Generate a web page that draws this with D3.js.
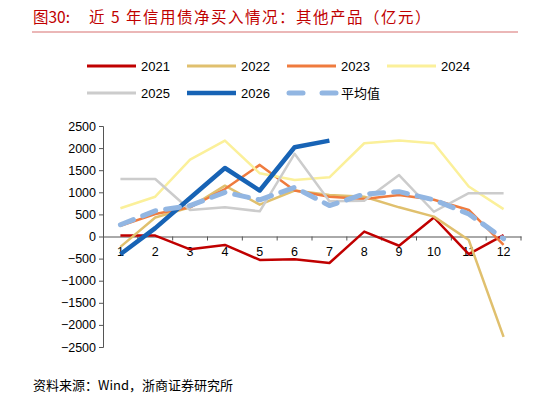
<!DOCTYPE html><html><head><meta charset="utf-8"><script src="https://cdn.jsdelivr.net/npm/d3@7"></script>
<style>body{margin:0;background:#fff}</style></head><body><svg id="c" width="548" height="403"></svg>
<script>
const months=["1","2","3","4","5","6","7","8","9","10","11","12"];
const yTicks=[2500,2000,1500,1000,500,0,-500,-1000,-1500,-2000,-2500];
const s2021=[20,20,-290,-190,-530,-515,-600,110,-210,430,-400,30];
const s2022=[-235,430,660,1150,720,1040,940,900,660,450,-80,-2270];
const s2023=[240,510,660,1075,1620,1040,900,850,940,830,600,-190];
const s2024=[640,900,1740,2170,1430,1280,1340,2110,2170,2110,1130,620];
const s2025=[1300,1300,600,660,570,1870,800,810,1390,560,980,980];
const s2026=[-400,190,870,1550,1040,2020,2170];
const sAvg=[265,580,700,1000,830,1110,700,960,1015,830,510,-50];
const series=[
 {name:"2021",d:s2021,c:"#c00000",w:2.5},
 {name:"2022",d:s2022,c:"#e0c06e",w:2.5},
 {name:"2023",d:s2023,c:"#ef7b3e",w:2.5},
 {name:"2024",d:s2024,c:"#fbf09a",w:2.5},
 {name:"2025",d:s2025,c:"#cccccc",w:2.5},
 {name:"2026",d:s2026,c:"#1763b5",w:4.5},
 {name:"平均值",d:sAvg,c:"#92b6e2",w:5,dash:"14,10"}];
const svg=d3.select("#c");
const font="'Liberation Sans',Arial,sans-serif";
svg.append("text").attr("x",33).attr("y",23).attr("fill","#c00000").attr("font-size",15.5)
 .attr("font-family","'Noto Sans CJK SC'").text("图30:");
svg.append("text").attr("x",89).attr("y",23).attr("fill","#c00000").attr("font-size",15.5).attr("letter-spacing",1.5)
 .attr("font-family","'Noto Sans CJK SC'").text("近 5 年信用债净买入情况：其他产品（亿元）");
svg.append("line").attr("x1",32).attr("x2",518).attr("y1",32).attr("y2",32).attr("stroke","#d87070").attr("stroke-width",1.2);
const x=d3.scaleBand().domain(months).range([103,521]);
const y=d3.scaleLinear().domain([-2500,2500]).range([347,126]);
const ya=svg.append("g").attr("transform","translate(103,0)").call(d3.axisLeft(y).tickValues(yTicks).tickFormat(d3.format("d")).tickSize(4));
ya.selectAll("text").attr("font-size",12.5).attr("font-family",font).attr("fill","#000");
ya.select(".domain").attr("stroke","#555");ya.selectAll("line").attr("stroke","#555");
const xa=svg.append("g").attr("transform",`translate(0,${y(0)})`).call(d3.axisBottom(x).tickSize(4).tickSizeOuter(0));
xa.selectAll(".tick line").attr("transform",`translate(${x.bandwidth()/2},0)`);
xa.select(".domain").attr("stroke","#555");xa.selectAll("line").attr("stroke","#555");
xa.selectAll("text").attr("font-size",12.5).attr("font-family",font).attr("fill","#000").attr("dy","1em");
const line=d3.line().x((d,i)=>x(months[i])+x.bandwidth()/2).y(d=>y(d));
series.forEach(s=>{svg.append("path").datum(s.d).attr("d",line).attr("fill","none").attr("stroke",s.c)
 .attr("stroke-width",s.w).attr("stroke-dasharray",s.dash||null).attr("stroke-linecap",s.dash?"round":"butt")
 .attr("stroke-linejoin","round");});
series.forEach((s,i)=>{const lx=87+(i%4)*100, ly=66+Math.floor(i/4)*27;
 const g=svg.append("g");
 if(s.dash){g.append("line").attr("x1",lx+2).attr("x2",lx+16).attr("y1",ly).attr("y2",ly).attr("stroke",s.c).attr("stroke-width",5).attr("stroke-linecap","round");
  g.append("line").attr("x1",lx+35).attr("x2",lx+49).attr("y1",ly).attr("y2",ly).attr("stroke",s.c).attr("stroke-width",5).attr("stroke-linecap","round");}
 else g.append("line").attr("x1",lx).attr("x2",lx+49).attr("y1",ly).attr("y2",ly).attr("stroke",s.c).attr("stroke-width",s.name==="2026"?4.5:3);
 g.append("text").attr("x",lx+54).attr("y",ly+5).attr("font-size",13).attr("font-family",s.dash?"'Noto Sans CJK SC'":font).text(s.name);});
svg.append("text").attr("x",33).attr("y",390).attr("font-size",13).attr("font-family","'Noto Sans CJK SC'").text("资料来源：Wind，浙商证券研究所");
</script></body></html>
